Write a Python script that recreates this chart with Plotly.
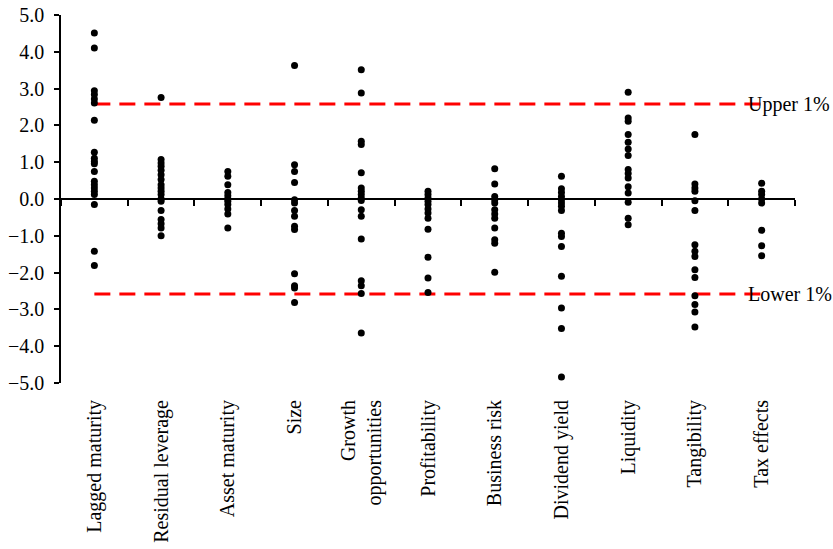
import plotly.graph_objects as go

categories = ["Lagged maturity", "Residual leverage", "Asset maturity", "Size",
              "Growth<br>opportunities", "Profitability", "Business risk",
              "Dividend yield", "Liquidity", "Tangibility", "Tax effects"]

lagged_maturity = [4.51, 4.10, 2.94, 2.84, 2.72, 2.61, 2.14, 1.27, 1.11, 1.02, 0.96, 0.75,
                   0.48, 0.39, 0.30, 0.21, 0.12, -0.15, -1.42, -1.81]
residual_leverage = [2.76, 1.07, 0.98, 0.89, 0.78, 0.66, 0.53, 0.39, 0.30, 0.21, 0.12, 0.0,
                     -0.06, -0.31, -0.56, -0.67, -0.79, -1.0]
asset_maturity = [0.75, 0.62, 0.39, 0.18, 0.09, 0.0, -0.06, -0.15, -0.27, -0.41, -0.79]
size = [3.63, 0.93, 0.75, 0.45, -0.02, -0.11, -0.31, -0.47, -0.74, -0.83, -2.03, -2.36,
        -2.42, -2.81]
growth_opportunities = [3.51, 2.88, 1.57, 1.48, 0.71, 0.30, 0.21, 0.12, 0.03, -0.04, -0.29,
                        -0.47, -1.09, -2.22, -2.36, -2.57, -3.64]
profitability = [0.21, 0.12, 0.03, -0.06, -0.15, -0.27, -0.38, -0.52, -0.82, -1.58, -2.15, -2.54]
business_risk = [0.82, 0.41, 0.07, -0.02, -0.11, -0.29, -0.41, -0.52, -0.79, -1.11, -1.20, -1.99]
dividend_yield = [0.62, 0.28, 0.18, 0.07, -0.02, -0.11, -0.20, -0.31, -0.93, -1.02, -1.29,
                  -2.10, -2.96, -3.52, -4.84]
liquidity = [2.90, 2.20, 2.11, 1.75, 1.54, 1.36, 1.18, 0.80, 0.69, 0.57, 0.33, 0.16, -0.09,
             -0.52, -0.70]
tangibility = [1.75, 0.41, 0.30, 0.21, -0.05, -0.31, -1.24, -1.42, -1.56, -1.92, -2.13, -2.63,
               -2.87, -3.07, -3.48]
tax_effects = [0.43, 0.21, 0.12, 0.0, -0.11, -0.85, -1.27, -1.54]

series = [lagged_maturity, residual_leverage, asset_maturity, size, growth_opportunities,
          profitability, business_risk, dividend_yield, liquidity, tangibility, tax_effects]

upper_1pct = 2.58
lower_1pct = -2.58
y_ticks = [5, 4, 3, 2, 1, 0, -1, -2, -3, -4, -5]

FONT = "Liberation Serif, Times New Roman, serif"

xs, ys = [], []
for cat, vals in zip(categories, series):
    xs += [cat] * len(vals)
    ys += vals

fig = go.Figure()

for level, label in [(upper_1pct, "Upper 1%"), (lower_1pct, "Lower 1%")]:
    fig.add_trace(go.Scatter(
        x=[categories[0], categories[-1]], y=[level, level], mode="lines",
        line=dict(color="#ff0000", width=3, dash="16px,9px"),
        hoverinfo="skip", showlegend=False))
    fig.add_annotation(x=categories[-1], y=level, text=label, showarrow=False,
                       xanchor="left", yanchor="middle", xshift=-16,
                       font=dict(family=FONT, size=20, color="black"))

fig.add_trace(go.Scatter(x=xs, y=ys, mode="markers",
                         marker=dict(color="black", size=7),
                         showlegend=False))

# invisible trace to activate the zero-positioned category axis
fig.add_trace(go.Scatter(x=[-0.5, 10.5], y=[0, 0], xaxis="x2", mode="markers",
                         marker=dict(opacity=0), hoverinfo="skip", showlegend=False))

fig.update_layout(
    width=833, height=549,
    margin=dict(l=61, r=38, t=15, b=166, autoexpand=False),
    plot_bgcolor="white", paper_bgcolor="white",
    font=dict(family=FONT, size=20, color="black"),
    xaxis=dict(type="category", categoryorder="array", categoryarray=categories,
               range=[-0.5, 10.5], showline=False, showgrid=False, zeroline=False,
               ticks="", tickangle=-90, ticklabelstandoff=12, automargin=False,
               tickfont=dict(family=FONT, size=20, color="black")),
    xaxis2=dict(overlaying="x", anchor="free", position=0.5, type="linear",
                range=[-0.5, 10.5], showline=True, linecolor="black", linewidth=1.5,
                ticks="outside", ticklen=6, tickwidth=1.5, tickcolor="black",
                tickvals=[i - 0.5 for i in range(12)], showticklabels=False,
                showgrid=False, zeroline=False, automargin=False),
    yaxis=dict(range=[-5, 5], tickvals=y_ticks, tickformat=".1f",
               showline=True, linecolor="black", linewidth=1.5,
               ticks="outside", ticklen=5, tickwidth=1.5, tickcolor="black",
               showgrid=False, zeroline=False, ticklabelstandoff=6, automargin=False,
               ticklabeloverflow="allow",
               tickfont=dict(family=FONT, size=20, color="black")),
)

fig.write_html("out.html",
               config={"displayModeBar": False},
               post_script="document.body.style.margin='0';"
                           "document.documentElement.style.overflow='hidden';")
